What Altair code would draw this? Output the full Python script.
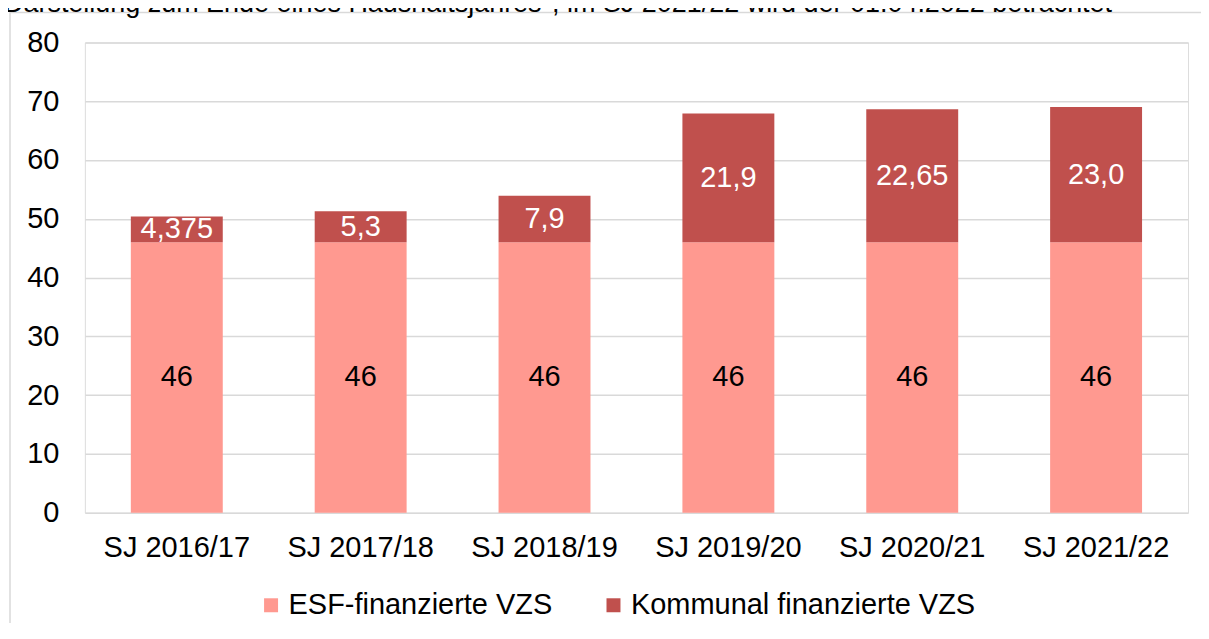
import altair as alt
import pandas as pd

categories = ["SJ 2016/17", "SJ 2017/18", "SJ 2018/19", "SJ 2019/20", "SJ 2020/21", "SJ 2021/22"]
esf_values = [46, 46, 46, 46, 46, 46]
esf_labels = ["46", "46", "46", "46", "46", "46"]
kommunal_values = [4.375, 5.3, 7.9, 21.9, 22.65, 23.0]
kommunal_labels = ["4,375", "5,3", "7,9", "21,9", "22,65", "23,0"]
series_names = ["ESF-finanzierte VZS", "Kommunal finanzierte VZS"]
series_colors = ["#FF9990", "#C0504D"]
y_ticks = [0, 10, 20, 30, 40, 50, 60, 70, 80]
top_note = "Darstellung zum Ende eines Haushaltsjahres*, im SJ 2021/22 wird der 01.04.2022 betrachtet"

rows = []
for c, v, l in zip(categories, esf_values, esf_labels):
    rows.append({"cat": c, "series": series_names[0], "value": v, "label": l, "ord": 0})
for c, v, l in zip(categories, kommunal_values, kommunal_labels):
    rows.append({"cat": c, "series": series_names[1], "value": v, "label": l, "ord": 1})
df = pd.DataFrame(rows)

FONT = "Liberation Sans"
FS = 29

base = alt.Chart(df).transform_stack(
    stack="value", groupby=["cat"], as_=["y0", "y1"], sort=[alt.SortField("ord", order="ascending")]
).transform_calculate(mid="(datum.y0 + datum.y1) / 2")

x_enc = alt.X(
    "cat:N",
    sort=categories,
    title=None,
    scale=alt.Scale(paddingInner=0.5, paddingOuter=0.25),
    axis=alt.Axis(labelFontSize=FS, labelFont=FONT, labelColor="black", labelAngle=0,
                  domain=False, ticks=False, labelPadding=21, grid=False, labelLimit=1000),
)

bars = base.mark_bar().encode(
    x=x_enc,
    y=alt.Y("y0:Q", title=None, scale=alt.Scale(domain=[0, 80], nice=False),
            axis=alt.Axis(values=y_ticks, labelFontSize=FS, labelFont=FONT, labelColor="black",
                          domain=False, ticks=False, labelPadding=26,
                          gridColor="#D9D9D9", gridWidth=1.5)),
    y2="y1:Q",
    color=alt.Color("series:N", scale=alt.Scale(domain=series_names, range=series_colors),
                    legend=alt.Legend(title=None, orient="none", legendX=172, legendY=549,
                                      direction="horizontal", symbolType="square", symbolSize=196,
                                      symbolStrokeWidth=0, labelFontSize=FS, labelFont=FONT,
                                      labelColor="black", columnPadding=46, labelOffset=3,
                                      padding=0, labelLimit=1000)),
)

texts = base.mark_text(font=FONT, fontSize=FS, baseline="middle", align="center").encode(
    x=alt.X("cat:N", sort=categories),
    y=alt.Y("mid:Q"),
    text="label:N",
    color=alt.condition(alt.datum.series == series_names[0], alt.value("black"), alt.value("white")),
)

frame = alt.Chart(alt.Data(values=[{"a": 1}])).mark_rect(
    fillOpacity=0, stroke="#D9D9D9", strokeWidth=1.5
).encode(x=alt.value(-75), x2=alt.value(1300), y=alt.value(-30), y2=alt.value(800))

note = alt.Chart(alt.Data(values=[{"a": 1}])).mark_text(
    font=FONT, fontSize=27, align="left", baseline="alphabetic", color="black"
).encode(x=alt.value(-81), y=alt.value(-31), text=alt.value(top_note))

chart = alt.layer(frame, note, bars, texts).properties(
    width=1105, height=471,
    autosize=alt.AutoSizeParams(type="none"),
    padding={"left": 77, "top": 34, "right": 13, "bottom": 110},
).configure_view(stroke=None).configure(background="white")

chart.save("out.html", embed_options={"renderer": "svg", "actions": False})
